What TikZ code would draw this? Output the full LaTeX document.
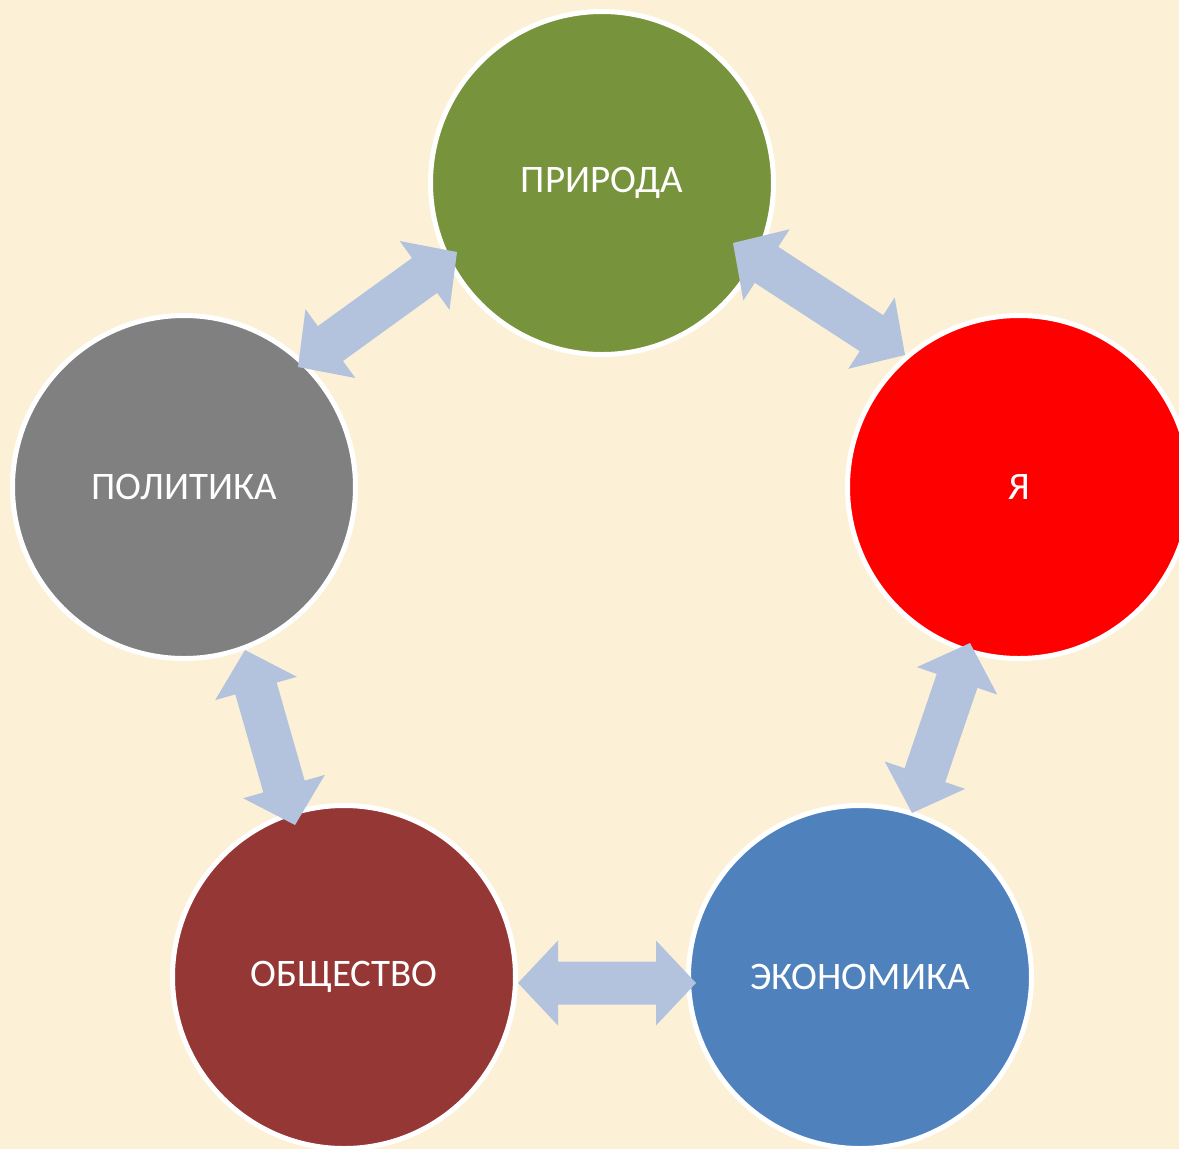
\documentclass[tikz,border=0pt]{standalone}
\usepackage{fontspec}
\setmainfont{Carlito}
\usetikzlibrary{calc}
\definecolor{bgcol}{RGB}{252,241,214}
\definecolor{arrcol}{RGB}{179,195,222}
\definecolor{cgreen}{RGB}{119,147,60}
\definecolor{cred}{RGB}{255,0,0}
\definecolor{cblue}{RGB}{79,129,189}
\definecolor{cbrown}{RGB}{149,55,53}
\definecolor{cgray}{RGB}{128,128,128}
\tikzset{
  circ/.style={circle, draw=white, line width=2.5pt, minimum size=171.5pt, inner sep=0pt,
    text=white, font=\fontsize{19.5}{23}\selectfont},
  arrowfill/.style={fill=arrcol}
}
\newcommand\dblarr[2]{%
  \fill[arrowfill] let \p1=(#1), \p2=(#2), \n1={atan2(\y2-\y1,\x2-\x1)} in
    (\p1)
    -- ($(\p1)+(\n1:20pt)+(\n1+90:21.25pt)$)
    -- ($(\p1)+(\n1:20pt)+(\n1+90:10.75pt)$)
    -- ($(\p2)+(\n1+180:20pt)+(\n1+90:10.75pt)$)
    -- ($(\p2)+(\n1+180:20pt)+(\n1+90:21.25pt)$)
    -- (\p2)
    -- ($(\p2)+(\n1+180:20pt)+(\n1-90:21.25pt)$)
    -- ($(\p2)+(\n1+180:20pt)+(\n1-90:10.75pt)$)
    -- ($(\p1)+(\n1:20pt)+(\n1-90:10.75pt)$)
    -- ($(\p1)+(\n1:20pt)+(\n1-90:21.25pt)$)
    -- cycle;}
\begin{document}
\begin{tikzpicture}[x=0.5pt,y=-0.5pt]
  \useasboundingbox (0,0) rectangle (1179,1148);
  \clip (0,0) rectangle (1179,1148);
  \fill[bgcol] (-5,-5) rectangle (1185,1155);
  % circles
  \node[circ, fill=cgreen] (pri) at (602,183) {ПРИРОДА};
  \node[circ, fill=cred] (ya) at (1019,487) {Я};
  \node[circ, fill=cblue] (eko) at (860,977) {ЭКОНОМИКА};
  \node[circ, fill=cbrown] (obsh) at (344,977) {ОБЩЕСТВО};
  \node[circ, fill=cgray] (pol) at (184,487) {ПОЛИТИКА};
  % arrow end points
  \coordinate (a1s) at (298,367);
  \coordinate (a1e) at (457,252);
  \coordinate (a2s) at (733,243);
  \coordinate (a2e) at (905,355);
  \coordinate (a3s) at (970,643);
  \coordinate (a3e) at (912,813);
  \coordinate (a4s) at (696,983);
  \coordinate (a4e) at (518,983);
  \coordinate (a5s) at (295,825);
  \coordinate (a5e) at (245,650);
  \dblarr{a1s}{a1e}
  \dblarr{a2s}{a2e}
  \dblarr{a3s}{a3e}
  \dblarr{a4s}{a4e}
  \dblarr{a5s}{a5e}
\end{tikzpicture}
\end{document}
